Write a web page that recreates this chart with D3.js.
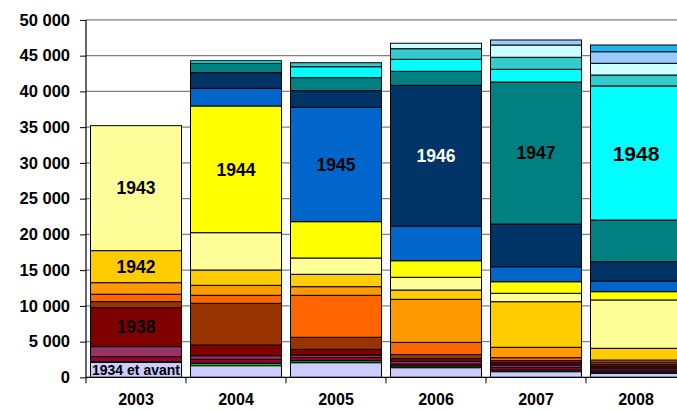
<!DOCTYPE html>
<html><head><meta charset="utf-8">
<script src="https://cdn.jsdelivr.net/npm/d3@7"></script>
<style>
html,body{margin:0;padding:0;background:#fff;}
svg{display:block;font-family:"Liberation Sans",Arial,sans-serif;}
</style></head>
<body><svg id="c" width="677" height="412"></svg>
<script>
const years = ["2003","2004","2005","2006","2007","2008"];
const cohorts = ["1934 et avant","1935","1936","1937","1938","1939","1940","1941","1942","1943",
  "1944","1945","1946","1947","1948","1949","1950","1951","1952"];
const colors = ["#CCCCFF","#00CC00","#990033","#993366","#800000","#993300","#FF6600","#FF9900","#FFCC00","#FFFF99",
  "#FFFF00","#0066CC","#003366","#008080","#00FFFF","#33CCCC","#CCFFFF","#99CCFF","#1EB4F0"];
const v2003 = [2110,100,700,1390,5460,840,1030,1620,4480,17480,0,0,0,0,0,0,0,0,0];
const v2004 = [1640,350,540,500,1500,5830,1120,1400,2140,5220,17720,2470,2190,1310,360,0,0,0,0];
const v2005 = [2060,280,440,350,800,1680,5870,1210,1730,2280,5080,16000,2320,1820,1530,560,0,0,0];
const v2006 = [1360,230,280,350,420,560,1700,6020,1300,1780,2320,4850,19680,1960,1680,1480,760,0,0];
const v2007 = [800,230,350,350,330,280,420,1450,6380,1170,1620,2100,5970,19860,1780,1680,1720,700,0];
const v2008 = [570,180,280,280,280,280,280,280,1640,6760,1160,1490,2700,5830,18750,1530,1640,1620,940];
const yTicks = [0,5000,10000,15000,20000,25000,30000,35000,40000,45000,50000];
// in-bar labels: year, cohort
const labels = [
  ["2003","1934 et avant"],["2003","1938"],["2003","1942"],["2003","1943"],
  ["2004","1944"],["2005","1945"],["2006","1946"],["2007","1947"],["2008","1948"]
];

const rows = [v2003,v2004,v2005,v2006,v2007,v2008].map((v,i)=>{
  const r = {year: years[i]};
  cohorts.forEach((c,j)=>r[c]=v[j]);
  return r;
});
const stack = d3.stack().keys(cohorts)(rows);

const svg = d3.select("#c");
const x0 = 86, y0 = 377.4, yTop = 19.9;
const x = d3.scaleBand().domain(years).range([x0, x0+600]).paddingInner(0.09).paddingOuter(0.045);
const y = d3.scaleLinear().domain([0,50000]).range([y0, yTop]);
const fmt = v => d3.format(",")(v).replace(/,/g," ");

// gridlines
svg.append("g").selectAll("line").data(yTicks.filter(t=>t>0)).join("line")
  .attr("x1",x0).attr("x2",700).attr("y1",d=>y(d)).attr("y2",d=>y(d))
  .attr("stroke","#808080").attr("stroke-width",1.2);

// bars
const g = svg.append("g");
stack.forEach((s,i)=>{
  g.append("g").attr("fill",colors[i]).selectAll("rect").data(s.filter(d=>d[1]-d[0]>0)).join("rect")
    .attr("x",d=>x(d.data.year)).attr("width",x.bandwidth())
    .attr("y",d=>y(d[1])).attr("height",d=>y(d[0])-y(d[1]))
    .attr("stroke","#000").attr("stroke-width",1);
});

// axes
const ya = d3.axisLeft(y).tickValues(yTicks).tickFormat(fmt).tickSize(6).tickPadding(10);
const yg = svg.append("g").attr("transform",`translate(${x0},0)`).call(ya);
yg.select(".domain").remove();
yg.selectAll("text").attr("font-size",16.5).attr("font-weight","bold").attr("fill","#000")
  .attr("font-family","Liberation Sans, Arial, sans-serif");
svg.append("line").attr("x1",x0).attr("x2",x0).attr("y1",yTop).attr("y2",y0).attr("stroke","#000").attr("stroke-width",1.2);
svg.append("line").attr("x1",x0).attr("x2",700).attr("y1",y0).attr("y2",y0).attr("stroke","#000").attr("stroke-width",1.2);
// x ticks at band boundaries
svg.append("g").selectAll("line").data(d3.range(years.length+1)).join("line")
  .attr("x1",i=>x0+i*x.step()).attr("x2",i=>x0+i*x.step()).attr("y1",y0).attr("y2",y0+6)
  .attr("stroke","#000").attr("stroke-width",1);
svg.append("g").selectAll("text").data(years).join("text")
  .attr("x",d=>x(d)+x.bandwidth()/2).attr("y",y0+28)
  .attr("text-anchor","middle").attr("font-size",16).attr("font-weight","bold").text(d=>d);

// in-bar labels
labels.forEach(([yr,c])=>{
  const si = cohorts.indexOf(c);
  const d = stack[si][years.indexOf(yr)];
  const small = c==="1934 et avant";
  const size = small ? 14 : (c==="1948" ? 21 : 17.5);
  svg.append("text").attr("x",x(yr)+x.bandwidth()/2).attr("y",(y(d[0])+y(d[1]))/2)
    .attr("dy","0.36em").attr("text-anchor","middle").attr("font-weight","bold")
    .attr("font-size",size).attr("fill",c==="1946"?"#fff":"#000").text(c);
});
</script></body></html>
